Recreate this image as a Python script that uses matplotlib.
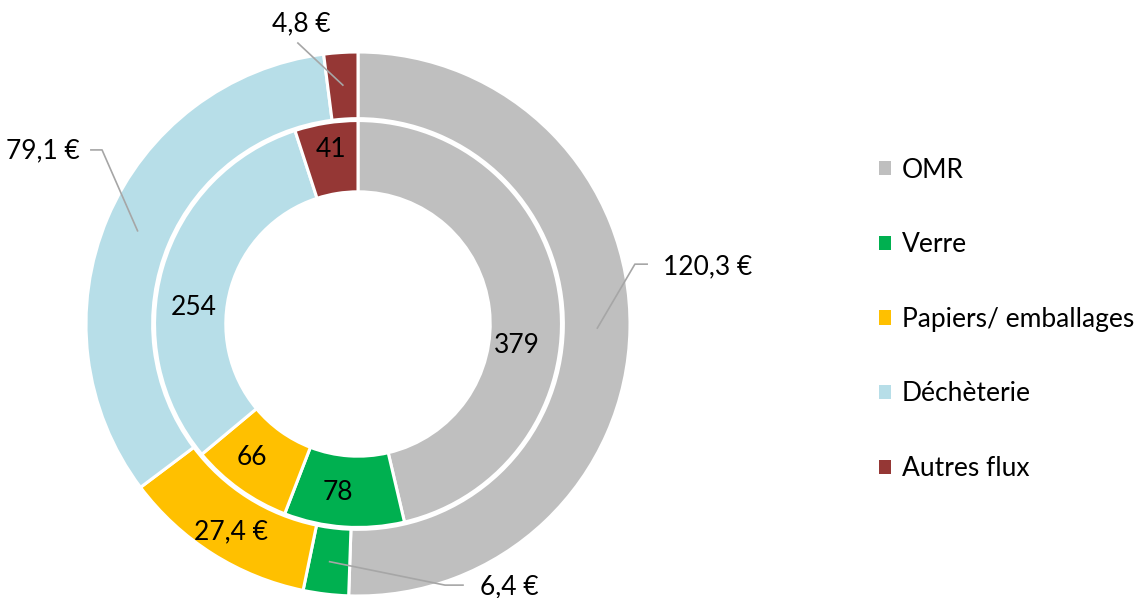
import numpy as np
import matplotlib
matplotlib.use("Agg")
import matplotlib.pyplot as plt
from matplotlib.patches import Patch

plt.rcParams['font.family'] = ['Lato', 'DejaVu Sans']

categories = ['OMR', 'Verre', 'Papiers/ emballages', 'Déchèterie', 'Autres flux']
colors = ['#BFBFBF', '#00B050', '#FFC000', '#B7DEE8', '#953735']
tonnage = [379, 78, 66, 254, 41]          # inner ring
cout = [120.3, 6.4, 27.4, 79.1, 4.8]       # outer ring (€)
cout_labels = ['120,3 €', '6,4 €', '27,4 €', '79,1 €', '4,8 €']

# label layout (data coords, radius 1 = outer edge)
inner_label_pos = [(0.585, -0.08), (-0.075, -0.62), (-0.39, -0.49), (-0.605, 0.06), (-0.10, 0.64)]
# (text x, text y, ha, elbow x, elbow y, end of horizontal tick x)
outer_label_layout = [
    (1.121, 0.21, 'left', 1.018, 0.22, 1.063),
    (0.449, -0.965, 'left', 0.32, -0.96, 0.386),
    (-0.467, -0.765, 'center', None, None, None),
    (-1.022, 0.636, 'right', -0.941, 0.64, -0.982),
    (-0.21, 1.103, 'center', -0.221, 1.033, None),
]

fig = plt.figure(figsize=(11.42, 5.98), dpi=100)
ax = fig.add_axes([86 / 1142, 2 / 598, 544 / 1142, 544 / 598])

wedge_kw = dict(edgecolor='white', linewidth=2.2)
outer, _ = ax.pie(cout, radius=1.0, colors=colors, startangle=90, counterclock=False,
                  wedgeprops=dict(width=0.245, **wedge_kw))
inner, _ = ax.pie(tonnage, radius=0.748, colors=colors, startangle=90, counterclock=False,
                  wedgeprops=dict(width=0.262, **wedge_kw))
ax.set_xlim(-1, 1)
ax.set_ylim(-1, 1)
ax.set_aspect('equal')
ax.axis('off')

fs = 19
for val, (x, y) in zip(tonnage, inner_label_pos):
    ax.text(x, y, str(val), ha='center', va='center', fontsize=fs, color='black')

for w, lab, (tx, ty, ha, ex, ey, hx) in zip(outer, cout_labels, outer_label_layout):
    if ex is not None:
        # leader line from inside the wedge, along its middle angle
        mid = np.deg2rad((w.theta1 + w.theta2) / 2)
        xs = [0.88 * np.cos(mid), ex]
        ys = [0.88 * np.sin(mid), ey]
        if hx is not None:
            xs.append(hx)
            ys.append(ey)
        ax.plot(xs, ys, color='#A6A6A6', lw=1.2, clip_on=False)
    ax.text(tx, ty, lab, ha=ha, va='center', fontsize=fs)

handles = [Patch(facecolor=c, edgecolor='none') for c in colors]
fig.legend(handles, categories, loc='center left', bbox_to_anchor=(855 / 1142, 0.466),
           frameon=False, fontsize=fs, handlelength=0.45, handleheight=0.45,
           handletextpad=0.42, labelspacing=1.88)

fig.savefig('out.png', dpi=100)
